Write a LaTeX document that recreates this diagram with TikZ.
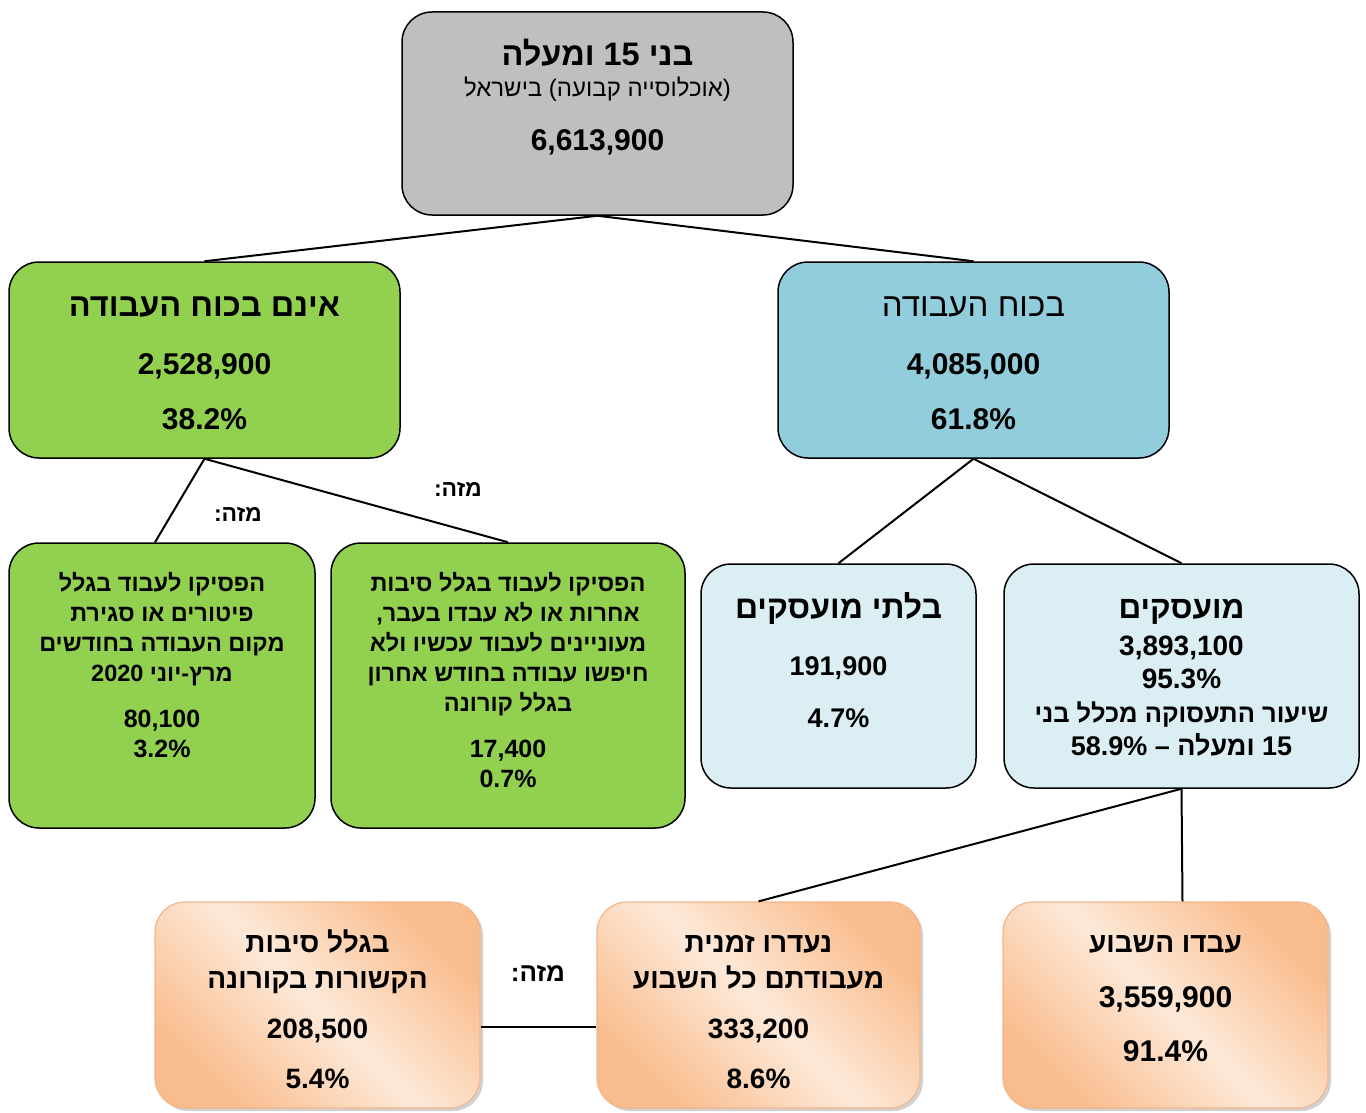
\documentclass[tikz,border=0pt]{standalone}
\usepackage{fontspec}
\setmainfont{Liberation Sans}
\newfontfamily\heb[Script=Hebrew]{Liberation Sans}
\TeXXeTstate=1
\newcommand\RL[1]{\beginR #1\endR}
\newcommand\LR[1]{\beginL #1\endL{}}
\usetikzlibrary{shadows}
\definecolor{gfill}{HTML}{BFBFBF}
\definecolor{grn}{HTML}{92D050}
\definecolor{blu}{HTML}{92CDDC}
\definecolor{lblu}{HTML}{DAEEF3}
\definecolor{odark}{HTML}{F9BC8C}
\definecolor{olight}{HTML}{FDE9D9}
\definecolor{obord}{HTML}{F4B68A}
\tikzset{
  box/.style={draw=black, line width=1.5pt, rounded corners=30pt, inner sep=0pt},
  obox/.style={draw=obord, line width=1.2pt, rounded corners=30pt, inner sep=0pt,
    left color=odark, right color=odark, middle color=olight, shading angle=135,
    drop shadow={shadow xshift=3pt, shadow yshift=-3pt, fill=black!40, opacity=0.45}},
  tb/.style={inner sep=0pt, anchor=base, font=\fontsize{#1}{#1}\selectfont\bfseries\heb},
  tr/.style={inner sep=0pt, anchor=base, font=\fontsize{#1}{#1}\selectfont\heb},
  conn/.style={draw=black, line width=2pt},
}
\begin{document}
\begin{tikzpicture}[x=1pt, y=-1pt]
\useasboundingbox (0,0) rectangle (1366,1113);
% boxes
\node[box, fill=gfill, minimum width=391pt, minimum height=203pt] (top) at (597.5,113.5) {};
\node[box, fill=grn, minimum width=391pt, minimum height=196pt] (nilf) at (204.5,360) {};
\node[box, fill=blu, minimum width=391pt, minimum height=196pt] (lf) at (973.5,360) {};
\node[box, fill=grn, minimum width=306pt, minimum height=285pt] (g1) at (162,685.5) {};
\node[box, fill=grn, minimum width=354pt, minimum height=285pt] (g2) at (508,685.5) {};
\node[box, fill=lblu, minimum width=275pt, minimum height=224pt] (lb1) at (838.5,676) {};
\node[box, fill=lblu, minimum width=355pt, minimum height=224pt] (lb2) at (1181.5,676) {};
\node[obox, minimum width=325pt, minimum height=206pt] (o1) at (317.5,1005) {};
\node[obox, minimum width=323pt, minimum height=206pt] (o2) at (758.5,1005) {};
\node[obox, minimum width=325pt, minimum height=206pt] (o3) at (1165.5,1005) {};
% connectors
\draw[conn] (top.south) -- (nilf.north);
\draw[conn] (top.south) -- (lf.north);
\draw[conn] (nilf.south) -- ([xshift=-7pt]g1.north);
\draw[conn] (nilf.south) -- (g2.north);
\draw[conn] (lf.south) -- (lb1.north);
\draw[conn] (lf.south) -- (lb2.north);
\draw[conn] (lb2.south) -- ([xshift=17pt]o3.north);
\draw[conn] (lb2.south) -- (o2.north);
\draw[conn] ([yshift=-22pt]o1.east) -- ([yshift=-22pt]o2.west);
% texts: top
\node[tb=32.5] (topa) at (597.5,66) {\RL{בני \LR{15} ומעלה}};
\node[tr=24] (topb) at (597.5,97) {\RL{(אוכלוסייה קבועה) בישראל}};
\node[tb=30] (topc) at (597.5,151) {6,613,900};
% not in labour force
\node[tb=32.5] (nilfa) at (204.5,316) {\RL{אינם בכוח העבודה}};
\node[tb=30] (nilfb) at (204.5,374) {2,528,900};
\node[tb=30] (nilfc) at (204.5,429) {38.2\%};
% labour force
\node[tr=33] (lfa) at (973.5,316) {\RL{בכוח העבודה}};
\node[tb=30] (lfb) at (973.5,374) {4,085,000};
\node[tb=30] (lfc) at (973.5,429) {61.8\%};
% green 1
\node[tb=23.5] (g1a) at (162,591) {\RL{הפסיקו לעבוד בגלל}};
\node[tb=23.5] (g1b) at (162,621) {\RL{פיטורים או סגירת}};
\node[tb=23.5] (g1c) at (162,651) {\RL{מקום העבודה בחודשים}};
\node[tb=23.5] (g1d) at (162,681) {\RL{מרץ-יוני \LR{2020}}};
\node[tb=25] (g1e) at (162,727) {80,100};
\node[tb=25] (g1f) at (162,757) {3.2\%};
% green 2
\node[tb=23.5] (g2a) at (508,591) {\RL{הפסיקו לעבוד בגלל סיבות}};
\node[tb=23.5] (g2b) at (508,621) {\RL{אחרות או לא עבדו בעבר\kern0pt,}};
\node[tb=23.5] (g2c) at (508,651) {\RL{מעוניינים לעבוד עכשיו ולא}};
\node[tb=23.5] (g2d) at (508,681) {\RL{חיפשו עבודה בחודש אחרון}};
\node[tb=23.5] (g2e) at (508,711) {\RL{בגלל קורונה}};
\node[tb=25] (g2f) at (508,757) {17,400};
\node[tb=25] (g2g) at (508,787) {0.7\%};
% unemployed
\node[tb=32] (lb1a) at (838.5,618) {\RL{בלתי מועסקים}};
\node[tb=27] (lb1b) at (838.5,675) {191,900};
\node[tb=27] (lb1c) at (838.5,727) {4.7\%};
% employed
\node[tb=31.5] (lb2a) at (1181.5,618) {\RL{מועסקים}};
\node[tb=28] (lb2b) at (1181.5,655) {3,893,100};
\node[tb=28] (lb2c) at (1181.5,688) {95.3\%};
\node[tb=25.5] (lb2d) at (1181.5,722) {\RL{שיעור התעסוקה מכלל בני}};
\node[tb=27] (lb2e) at (1181.5,755) {\RL{\LR{15} ומעלה – \LR{58.9\%}}};
% orange 1
\node[tb=28] (o1a) at (317.5,952) {\RL{בגלל סיבות}};
\node[tb=28] (o1b) at (317.5,988) {\RL{הקשורות בקורונה}};
\node[tb=28] (o1c) at (317.5,1038) {208,500};
\node[tb=28] (o1d) at (317.5,1088) {5.4\%};
% orange 2
\node[tb=28] (o2a) at (758.5,952) {\RL{נעדרו זמנית}};
\node[tb=28] (o2b) at (758.5,988) {\RL{מעבודתם כל השבוע}};
\node[tb=28] (o2c) at (758.5,1038) {333,200};
\node[tb=28] (o2d) at (758.5,1088) {8.6\%};
% orange 3
\node[tb=28] (o3a) at (1165.5,952) {\RL{עבדו השבוע}};
\node[tb=30] (o3b) at (1165.5,1007) {3,559,900};
\node[tb=30] (o3c) at (1165.5,1061) {91.4\%};
% labels
\node[tb=23] (m1) at (458,496) {\RL{מזה:}};
\node[tb=23] (m2) at (238,521) {\RL{מזה:}};
\node[tb=26] (m3) at (538,981) {\RL{מזה:}};
\end{tikzpicture}
\end{document}
